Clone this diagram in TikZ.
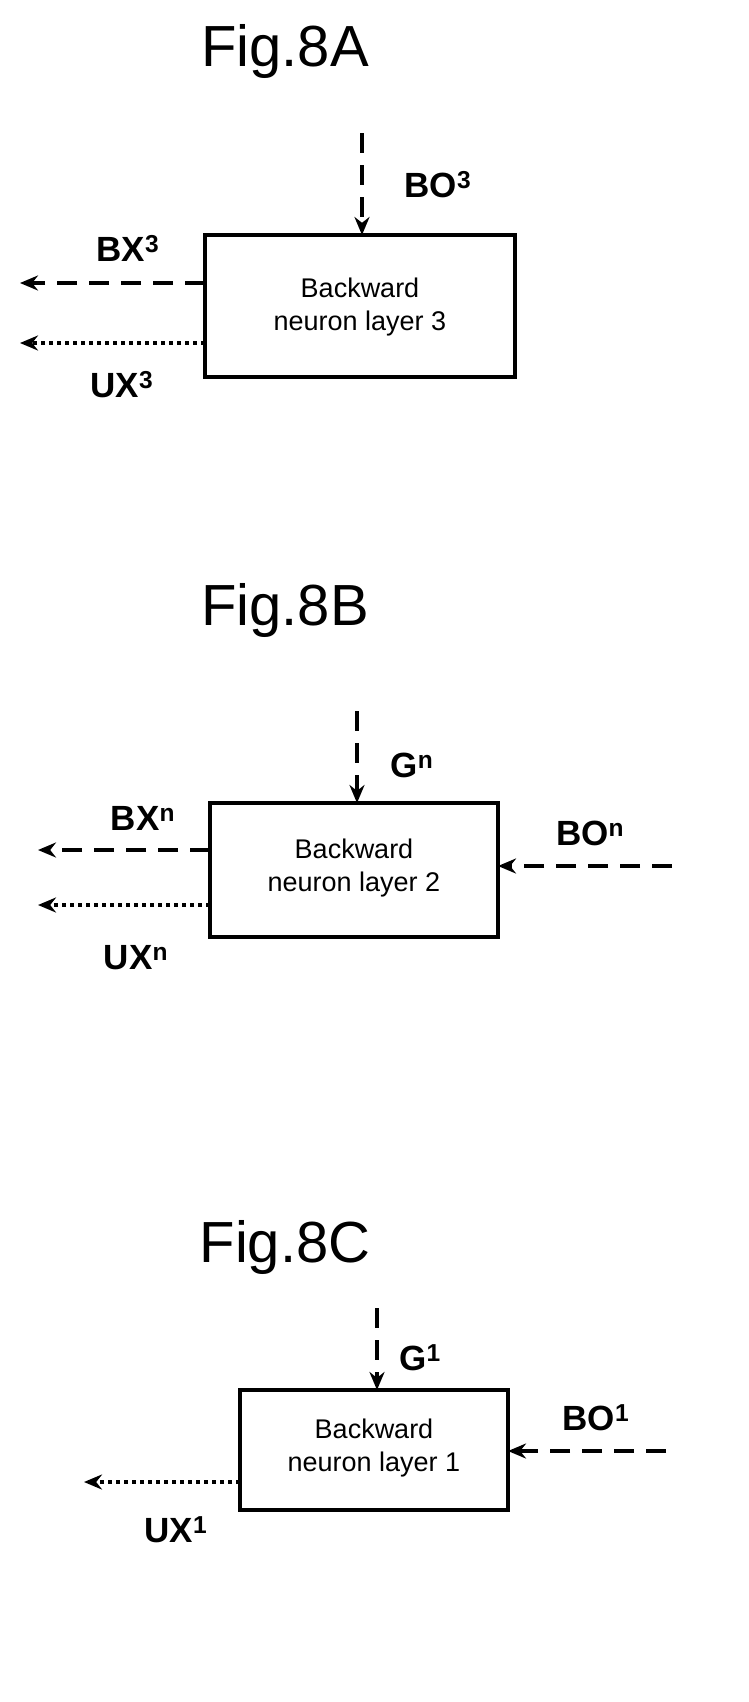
\documentclass[tikz,border=0pt]{standalone}
\usepackage{fontspec}
\setmainfont{Liberation Sans}
\usetikzlibrary{arrows.meta}
\begin{document}
\begin{tikzpicture}[x=1pt,y=-1pt,
 box/.style={draw,line width=4pt,inner sep=0pt},
 btxt/.style={font=\fontsize{27}{33}\selectfont,align=center},
 ttl/.style={font=\fontsize{58}{62}\selectfont},
 lbl/.style={font=\bfseries\fontsize{35}{38}\selectfont},
 da/.style={line width=3.5pt,dash pattern=on 20pt off 12pt,-{Stealth[length=18pt,width=15pt]}},
 do/.style={line width=3.5pt,dash pattern=on 4pt off 4pt,-{Stealth[length=18pt,width=15pt]}}]
\useasboundingbox (0,0) rectangle (748,1702);
% A
\node[ttl] (ta) at (285,52) {Fig.8A};
\draw[box] (205,235) rectangle (515,377);
\node[btxt] (ba) at (360,307) {Backward\\neuron layer 3};
\coordinate (a1) at (362,133); \coordinate (a2) at (362,235);
\draw[da] (a1) -- (a2);
\node[lbl] (la1) at (438,185) {BO\textsuperscript{3}};
\coordinate (a3) at (205,283); \coordinate (a4) at (20,283);
\draw[da] (a3) -- (a4);
\node[lbl] (la2) at (128,248) {BX\textsuperscript{3}};
\coordinate (a5) at (205,343); \coordinate (a6) at (20,343);
\draw[do] (a5) -- (a6);
\node[lbl] (la3) at (122,385) {UX\textsuperscript{3}};
% B
\node[ttl] (tb) at (285,610) {Fig.8B};
\draw[box] (210,803) rectangle (498,937);
\node[btxt] (bb) at (354,868) {Backward\\neuron layer 2};
\coordinate (b1) at (357,711); \coordinate (b2) at (357,803);
\draw[da] (b1) -- (b2);
\node[lbl] (lb1) at (412,765) {G\textsuperscript{n}};
\coordinate (b3) at (210,850); \coordinate (b4) at (38,850);
\draw[da] (b3) -- (b4);
\node[lbl] (lb2) at (143,818) {BX\textsuperscript{n}};
\coordinate (b5) at (210,905); \coordinate (b6) at (38,905);
\draw[do] (b5) -- (b6);
\node[lbl] (lb3) at (136,958) {UX\textsuperscript{n}};
\coordinate (b7) at (672,866); \coordinate (b8) at (498,866);
\draw[da] (b7) -- (b8);
\node[lbl] (lb4) at (590,833) {BO\textsuperscript{n}};
% C
\node[ttl] (tc) at (285,1247) {Fig.8C};
\draw[box] (240,1390) rectangle (508,1510);
\node[btxt] (bc) at (374,1448) {Backward\\neuron layer 1};
\coordinate (c1) at (377,1308); \coordinate (c2) at (377,1390);
\draw[da] (c1) -- (c2);
\node[lbl] (lc1) at (420,1358) {G\textsuperscript{1}};
\coordinate (c3) at (666,1451); \coordinate (c4) at (508,1451);
\draw[da] (c3) -- (c4);
\node[lbl] (lc2) at (596,1418) {BO\textsuperscript{1}};
\coordinate (c5) at (240,1482); \coordinate (c6) at (84,1482);
\draw[do] (c5) -- (c6);
\node[lbl] (lc3) at (176,1530) {UX\textsuperscript{1}};
\end{tikzpicture}
\end{document}
